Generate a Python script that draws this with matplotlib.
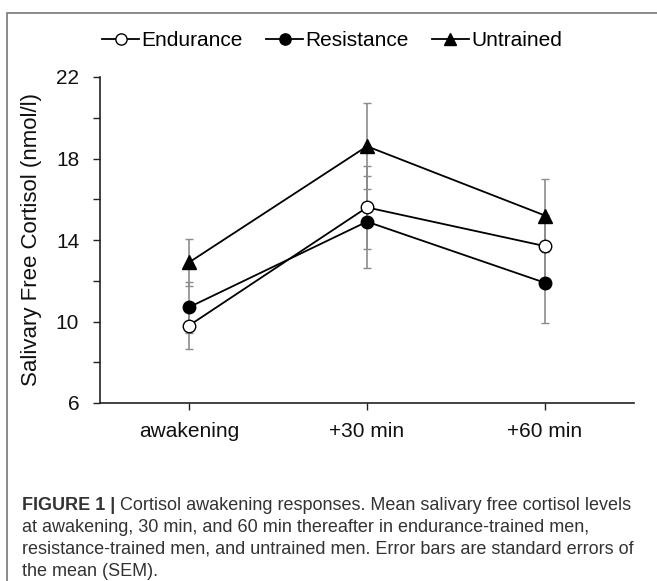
import numpy as np
import matplotlib
matplotlib.use("Agg")
import matplotlib.pyplot as plt
from matplotlib.patches import Rectangle

# ==========================
# DATA
# ==========================
timepoints = ["awakening", "+30 min", "+60 min"]

endurance = [9.8, 15.6, 13.7]
endurance_sem = [1.15, 2.05, 1.55]

resistance = [10.7, 14.9, 11.9]
resistance_sem = [1.25, 2.25, 1.95]

untrained = [12.9, 18.6, 15.2]
untrained_sem = [1.15, 2.1, 1.8]

y_major = [6, 10, 14, 18, 22]
y_minor = [8, 12, 16, 20]

caption_bold = "FIGURE 1 |"
caption_lines = [
    " Cortisol awakening responses. Mean salivary free cortisol levels",
    "at awakening, 30 min, and 60 min thereafter in endurance-trained men,",
    "resistance-trained men, and untrained men. Error bars are standard errors of",
    "the mean (SEM).",
]

plt.rcParams["font.family"] = ["Liberation Sans", "DejaVu Sans"]

W, H = 657, 581
fig = plt.figure(figsize=(W / 100, H / 100), dpi=100)
ax = fig.add_axes([100 / W, 1 - 403 / H, (634 - 100) / W, (403 - 77) / H])

x = np.arange(len(timepoints))
series = [
    ("Endurance", endurance, endurance_sem, "o", "white", 9),
    ("Resistance", resistance, resistance_sem, "o", "black", 9),
    ("Untrained", untrained, untrained_sem, "^", "black", 10),
]

for name, vals, sem, mk, fc, ms in series:
    ax.errorbar(x, vals, yerr=sem, fmt="none", ecolor="#8c8c8c",
                elinewidth=1.2, capsize=3, capthick=1.0, zorder=1)
for name, vals, sem, mk, fc, ms in series:
    ax.plot(x, vals, color="black", lw=1.3, marker=mk, ms=ms,
            mfc=fc, mec="black", mew=1.0, label=name, zorder=3)

ax.set_xlim(-0.5, 2.5)
ax.set_ylim(6, 22)
ax.set_xticks(x)
ax.set_xticklabels(timepoints)
ax.set_yticks(y_major)
ax.set_yticks(y_minor, minor=True)
ax.tick_params(axis="both", which="both", direction="out", length=5,
               width=1.0, color="#222222", labelsize=15, labelcolor="#111111")
ax.tick_params(axis="y", pad=10)
ax.tick_params(axis="x", pad=9)
for s in ["top", "right"]:
    ax.spines[s].set_visible(False)
for s in ["left", "bottom"]:
    ax.spines[s].set_color("#222222")
    ax.spines[s].set_linewidth(1.2)

ax.set_ylabel("Salivary Free Cortisol (nmol/l)", fontsize=16, color="#111111")
ax.yaxis.set_label_coords(-(100 - 42) / (634 - 100), 0.5)

leg = fig.legend(loc="center", bbox_to_anchor=(332 / W, 1 - 41 / H), ncol=3,
                 frameon=False, fontsize=15, handlelength=1.8,
                 handletextpad=0.1, columnspacing=1.1, markerscale=0.9)

# outer frame
fig.patches.append(Rectangle((7 / W, -0.05), 1.1, 1 - 13 / H + 0.05,
                             transform=fig.transFigure, fill=False,
                             edgecolor="#777777", lw=1.2))

# caption
cap_x = 22 / W
cap_y0 = 1 - 505 / H
dy = 22 / H
renderer = fig.canvas.get_renderer()
tb = fig.text(cap_x, cap_y0, caption_bold, fontsize=13, fontweight="bold",
              color="#333333", va="center", ha="left")
bb = tb.get_window_extent(renderer=renderer)
fig.text(bb.x1 / W, cap_y0, caption_lines[0], fontsize=13, color="#333333",
         va="center", ha="left")
for i, line in enumerate(caption_lines[1:], start=1):
    fig.text(cap_x, cap_y0 - i * dy, line, fontsize=13, color="#333333",
             va="center", ha="left")

fig.savefig("out.png", dpi=100)
